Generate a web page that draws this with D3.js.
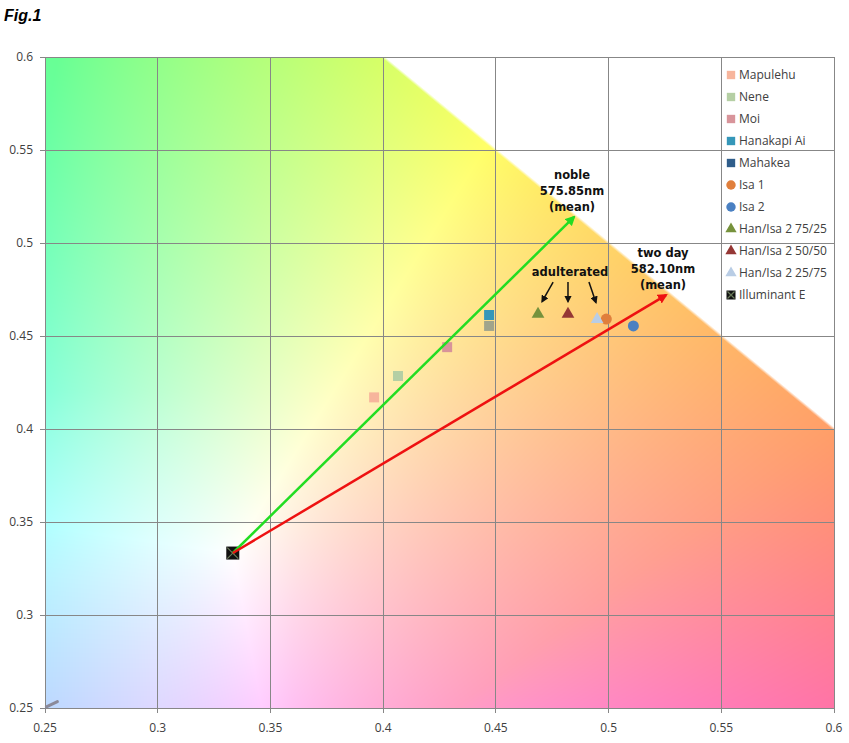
<!DOCTYPE html>
<html>
<head>
<meta charset="utf-8">
<script src="https://cdn.jsdelivr.net/npm/d3@7"></script>
<style>
  body { margin: 0; background: #fff; }
  svg { display: block; }
</style>
</head>
<body>
<div id="main"></div>
<script>
"use strict";

// series (CIE x, y)
const seriesNames = ["Mapulehu", "Nene", "Moi", "Hanakapi Ai", "Mahakea", "Isa 1", "Isa 2",
    "Han/Isa 2 75/25", "Han/Isa 2 50/50", "Han/Isa 2 25/75", "Illuminant E"];
const seriesX = [0.396, 0.4066, 0.4284, 0.447, 0.447, 0.499, 0.511, 0.4687, 0.482, 0.4949, 0.3333];
const seriesY = [0.417, 0.4285, 0.444, 0.4613, 0.4554, 0.4591, 0.4554, 0.4618, 0.4618, 0.459, 0.3333];
const seriesShape = ["square", "square", "square", "square", "square", "circle", "circle",
    "triangle", "triangle", "triangle", "cross"];
const seriesColor = ["#f7b59c", "#b5cfa4", "#d8949a", "#3597b9", "#2f5d8a", "#e07f3c", "#4a80c2",
    "#76923c", "#953735", "#b9cde5", "#111111"];

const xTicks = [0.25, 0.3, 0.35, 0.4, 0.45, 0.5, 0.55, 0.6];
const yTicks = [0.25, 0.3, 0.35, 0.4, 0.45, 0.5, 0.55, 0.6];

// arrows from illuminant E to the mean dominant wavelengths
const arrowStart = [1 / 3, 1 / 3];
const nobleEnd = [0.4847, 0.514];
const twoDayEnd = [0.5255, 0.472];
const nobleLabel = ["noble", "575.85nm", "(mean)"];
const twoDayLabel = ["two day", "582.10nm", "(mean)"];
// small black pointers below "adulterated"
const pointerFrom = [[0.4754, 0.479], [0.482, 0.479], [0.4913, 0.479]];
const pointerTo = [[0.4705, 0.4685], [0.482, 0.4685], [0.4944, 0.468]];
const stray = [[0.2506, 0.2506], [0.2555, 0.2534]];

const W = 849, H = 743;
const plotL = 45, plotR = 834, plotT = 57, plotB = 708;

const x = d3.scaleLinear().domain([0.25, 0.6]).range([plotL, plotR]);
const y = d3.scaleLinear().domain([0.25, 0.6]).range([plotB, plotT]);

const svg = d3.select("#main").append("svg")
    .attr("width", W).attr("height", H)
    .style("font-family", "'Open Sans', 'Liberation Sans', sans-serif");

// chromaticity background (CIE RGB primaries, whitened a bit) painted on a canvas
function chromaColor(cx, cy) {
    const X = cx / cy, Y = 1, Z = (1 - cx - cy) / cy;
    let r = 2.3646 * X - 0.8965 * Y - 0.4681 * Z;
    let g = -0.5152 * X + 1.4264 * Y + 0.0888 * Z;
    let b = 0.0052 * X - 0.0144 * Y + 1.0092 * Z;
    r = Math.max(r, 0); g = Math.max(g, 0); b = Math.max(b, 0);
    const m = Math.max(r, g, b);
    r /= m; g /= m; b /= m;
    // push the red corner towards pink like the original picture
    if (r >= 1) {
        const f = Math.max(0, 1 - g / 0.25) * 1.5;
        b = Math.min(1, b + b * f);
        g = g * (1 - 0.3 * Math.max(0, 1 - g / 0.25));
    }
    // paler cyan / lavender in the lower left
    const pale = Math.max(0, Math.min(1, (0.42 - cy) / 0.1)) * Math.max(0, Math.min(1, (0.36 - cx) / 0.06));
    const w = 0.14 + 0.2 * pale;
    return [r, g, b].map(c => Math.round(255 * Math.pow(c * (1 - w) + w, 1 / 2.2)));
}

const pw = plotR - plotL, ph = plotB - plotT;
const canvas = document.createElement("canvas");
canvas.width = pw; canvas.height = ph;
const ctx = canvas.getContext("2d");
const img = ctx.createImageData(pw, ph);
for (let j = 0; j < ph; j++) {
    const cy = y.invert(plotT + j + 0.5);
    for (let i = 0; i < pw; i++) {
        const cx = x.invert(plotL + i + 0.5);
        let c = chromaColor(cx, cy);
        // soft white edge beyond x + y = 1
        const d = (cx + cy - 1) * 1500;
        const t = Math.max(0, Math.min(1, (d + 1.5) / 3));
        c = c.map(v => Math.round(v * (1 - t) + 255 * t));
        const k = (j * pw + i) * 4;
        img.data[k] = c[0]; img.data[k + 1] = c[1]; img.data[k + 2] = c[2]; img.data[k + 3] = 255;
    }
}
ctx.putImageData(img, 0, 0);
svg.append("image")
    .attr("x", plotL).attr("y", plotT).attr("width", pw).attr("height", ph)
    .attr("href", canvas.toDataURL());

// grid
svg.append("g").selectAll("line").data(xTicks).join("line")
    .attr("x1", d => x(d)).attr("x2", d => x(d))
    .attr("y1", plotT).attr("y2", plotB + 5)
    .attr("stroke", "#878787").attr("stroke-width", 1).attr("shape-rendering", "crispEdges");
svg.append("g").selectAll("line").data(yTicks).join("line")
    .attr("x1", plotL - 5).attr("x2", plotR)
    .attr("y1", d => y(d)).attr("y2", d => y(d))
    .attr("stroke", "#878787").attr("stroke-width", 1).attr("shape-rendering", "crispEdges");

// tick labels
const fmt = d => String(+d.toFixed(2));
svg.append("g").selectAll("text").data(yTicks).join("text")
    .attr("x", 33).attr("y", d => y(d)).attr("dy", "0.35em")
    .attr("text-anchor", "end").attr("font-size", 12).attr("fill", "#404040")
    .text(fmt);
svg.append("g").selectAll("text").data(xTicks).join("text")
    .attr("x", d => x(d)).attr("y", 732)
    .attr("text-anchor", "middle").attr("font-size", 12).attr("fill", "#404040")
    .text(fmt);

// title
svg.append("text").attr("x", 4).attr("y", 21)
    .attr("font-family", "'Liberation Sans', Arial, sans-serif")
    .attr("font-size", 16).attr("font-weight", "bold").attr("font-style", "italic")
    .text("Fig.1");

// arrow heads
const defs = svg.append("defs");
[["headGreen", "#22dd22", 4], ["headRed", "#ee1111", 4], ["headBlack", "#111", 5]].forEach(([id, col, s]) => {
    defs.append("marker").attr("id", id)
        .attr("viewBox", "0 0 10 10").attr("refX", 8).attr("refY", 5)
        .attr("markerWidth", s).attr("markerHeight", s).attr("orient", "auto")
        .append("path").attr("d", "M0,0L10,5L0,10Z").attr("fill", col);
});

svg.append("path")
    .attr("d", d3.line().x(d => x(d[0])).y(d => y(d[1]))(stray))
    .attr("stroke", "#8a8a9a").attr("stroke-width", 3).attr("stroke-linecap", "round").attr("fill", "none");

// markers
const sym = {
    square: d3.symbol().type(d3.symbolSquare).size(100),
    circle: d3.symbol().type(d3.symbolCircle).size(95),
    triangle: d3.symbol().type(d3.symbolTriangle).size(70)
};
function drawMarker(g, shape, color, isLegend) {
    if (shape === "cross") {
        const s = isLegend ? 9 : 13;
        g.append("rect").attr("x", -s / 2).attr("y", -s / 2).attr("width", s).attr("height", s)
            .attr("fill", color);
        g.append("path").attr("d", `M${-s / 2 + 1},${-s / 2 + 1}L${s / 2 - 1},${s / 2 - 1}M${s / 2 - 1},${-s / 2 + 1}L${-s / 2 + 1},${s / 2 - 1}`)
            .attr("stroke", "#6a7a5a").attr("stroke-width", 1.2);
        return;
    }
    const gen = isLegend
        ? d3.symbol().type(shape === "square" ? d3.symbolSquare : shape === "circle" ? d3.symbolCircle : d3.symbolTriangle)
            .size(shape === "triangle" ? 55 : 70)
        : sym[shape];
    g.append("path").attr("d", gen()).attr("fill", color);
}

const pts = svg.append("g");
seriesNames.forEach((name, i) => {
    const g = pts.append("g").attr("transform", `translate(${x(seriesX[i])},${y(seriesY[i])})`);
    if (name === "Mahakea") g.attr("opacity", 0.45);
    drawMarker(g, seriesShape[i], seriesColor[i], false);
});

// arrows
const line = d3.line().x(d => x(d[0])).y(d => y(d[1]));
svg.append("path").attr("d", line([arrowStart, nobleEnd]))
    .attr("stroke", "#22dd22").attr("stroke-width", 2.5).attr("fill", "none")
    .attr("marker-end", "url(#headGreen)");
svg.append("path").attr("d", line([arrowStart, twoDayEnd]))
    .attr("stroke", "#ee1111").attr("stroke-width", 2.5).attr("fill", "none")
    .attr("marker-end", "url(#headRed)");
pointerFrom.forEach((p, i) => {
    svg.append("path").attr("d", line([p, pointerTo[i]]))
        .attr("stroke", "#111").attr("stroke-width", 1.5).attr("fill", "none")
        .attr("marker-end", "url(#headBlack)");
});

// annotation texts
const ann = svg.append("g")
    .attr("font-family", "'DejaVu Sans', sans-serif").attr("font-weight", "bold")
    .attr("font-size", 11.5).attr("text-anchor", "middle").attr("fill", "#111");
ann.selectAll(".noble").data(nobleLabel).join("text")
    .attr("x", 572).attr("y", (d, i) => 179 + i * 16).text(d => d);
ann.selectAll(".twoday").data(twoDayLabel).join("text")
    .attr("x", 663).attr("y", (d, i) => 257 + i * 16).text(d => d);
ann.append("text").attr("x", 570).attr("y", 276).text("adulterated");

// legend
const legend = svg.append("g").attr("transform", "translate(731,75)");
seriesNames.forEach((name, i) => {
    const g = legend.append("g").attr("transform", `translate(0,${i * 22})`);
    drawMarker(g, seriesShape[i], seriesColor[i], true);
    g.append("text").attr("x", 8).attr("dy", "0.35em")
        .attr("font-size", 12).attr("fill", "#404040").text(name);
});
</script>
</body>
</html>
